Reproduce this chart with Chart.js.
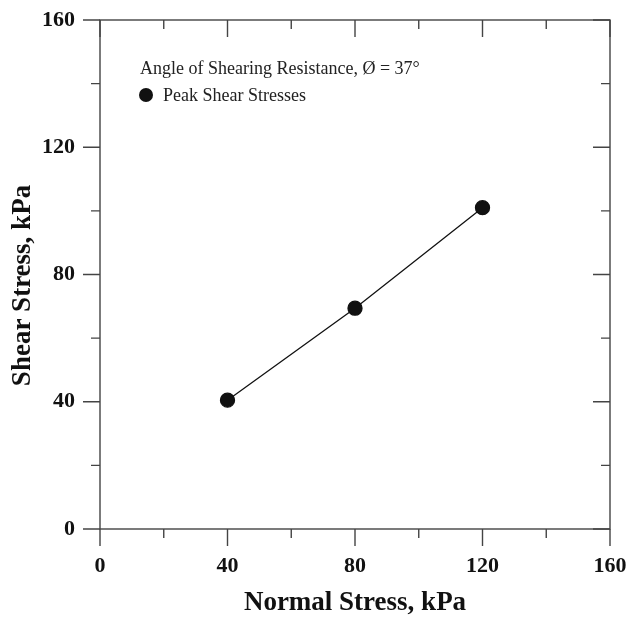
<!DOCTYPE html>
<html>
<head>
<meta charset="utf-8">
<script src="https://cdn.jsdelivr.net/npm/chart.js@4.4.0/dist/chart.umd.min.js"></script>
<style>
  html, body { margin: 0; padding: 0; background: #fff; }
  #wrap { width: 630px; height: 617px; }
</style>
</head>
<body>
<div id="wrap"><canvas id="shearChart"></canvas></div>
<script>
// peak shear stress vs normal stress
const normalStress = [40, 80, 120];
const shearStress = [40.5, 69.4, 101];
const majorTicks = [0, 40, 80, 120, 160];
const minorTicks = [20, 60, 100, 140];
const frictionAngle = 37;
const yTitle = "Shear Stress, kPa";

const serif = "'Liberation Serif', 'Times New Roman', serif";

// box axes: bottom/left ticks point out, top/right ticks point in
const boxTicks = {
  id: "boxTicks",
  afterDraw(chart) {
    const { ctx, chartArea: a, scales } = chart;
    const x = scales.x, y = scales.y;
    ctx.save();
    ctx.strokeStyle = "#444";
    ctx.lineWidth = 1.4;
    ctx.strokeRect(a.left, a.top, a.right - a.left, a.bottom - a.top);
    ctx.beginPath();
    const tick = (v, len) => {
      const px = x.getPixelForValue(v);
      ctx.moveTo(px, a.bottom); ctx.lineTo(px, a.bottom + len);
      ctx.moveTo(px, a.top); ctx.lineTo(px, a.top + len);
      const py = y.getPixelForValue(v);
      ctx.moveTo(a.left, py); ctx.lineTo(a.left - len, py);
      ctx.moveTo(a.right, py); ctx.lineTo(a.right - len, py);
    };
    majorTicks.forEach(v => tick(v, 17));
    minorTicks.forEach(v => tick(v, 9));
    ctx.stroke();

    // rotated y axis title
    ctx.fillStyle = "#111";
    ctx.font = "bold 27px " + serif;
    ctx.textAlign = "center";
    ctx.textBaseline = "middle";
    ctx.save();
    ctx.translate(23, (a.top + a.bottom) / 2 + 11);
    ctx.rotate(-Math.PI / 2);
    ctx.fillText(yTitle, 0, 0);
    ctx.restore();

    // legend block in upper left of plot
    ctx.textAlign = "left";
    ctx.fillStyle = "#222";
    ctx.font = "18px " + serif;
    ctx.fillText("Angle of Shearing Resistance, \u00D8 = " + frictionAngle + "\u00B0", a.left + 40, a.top + 49);
    ctx.beginPath();
    ctx.fillStyle = "#111";
    ctx.arc(a.left + 46, a.top + 75, 7, 0, Math.PI * 2);
    ctx.fill();
    ctx.fillStyle = "#222";
    ctx.fillText(chart.data.datasets[0].label, a.left + 63, a.top + 76);
    ctx.restore();
  }
};

new Chart(document.getElementById("shearChart"), {
  type: "scatter",
  data: {
    datasets: [{
      label: "Peak Shear Stresses",
      data: normalStress.map((v, i) => ({ x: v, y: shearStress[i] })),
      showLine: true,
      borderColor: "#111",
      borderWidth: 1.3,
      backgroundColor: "#111",
      pointRadius: 7,
      pointHoverRadius: 7
    }]
  },
  options: {
    responsive: true,
    maintainAspectRatio: false,
    animation: false,
    layout: { padding: { top: 20, right: 20, left: 0, bottom: 0 } },
    plugins: { legend: { display: false }, tooltip: { enabled: false } },
    scales: {
      x: {
        type: "linear",
        min: 0, max: 160,
        afterFit(s) { s.height = 88; s.paddingLeft = 0; s.paddingRight = 0; },
        border: { display: false },
        grid: { display: false, drawTicks: false },
        ticks: {
          stepSize: 40,
          padding: 24,
          color: "#111",
          font: { family: serif, size: 22, weight: "bold" }
        },
        title: {
          display: true,
          text: "Normal Stress, kPa",
          color: "#111",
          font: { family: serif, size: 27, weight: "bold" },
          padding: { top: 0, bottom: -2 }
        }
      },
      y: {
        type: "linear",
        min: 0, max: 160,
        afterFit(s) { s.width = 100; s.paddingTop = 0; s.paddingBottom = 0; },
        border: { display: false },
        grid: { display: false, drawTicks: false },
        ticks: {
          stepSize: 40,
          padding: 25,
          color: "#111",
          font: { family: serif, size: 22, weight: "bold" }
        }
      }
    }
  },
  plugins: [boxTicks]
});
</script>
</body>
</html>
